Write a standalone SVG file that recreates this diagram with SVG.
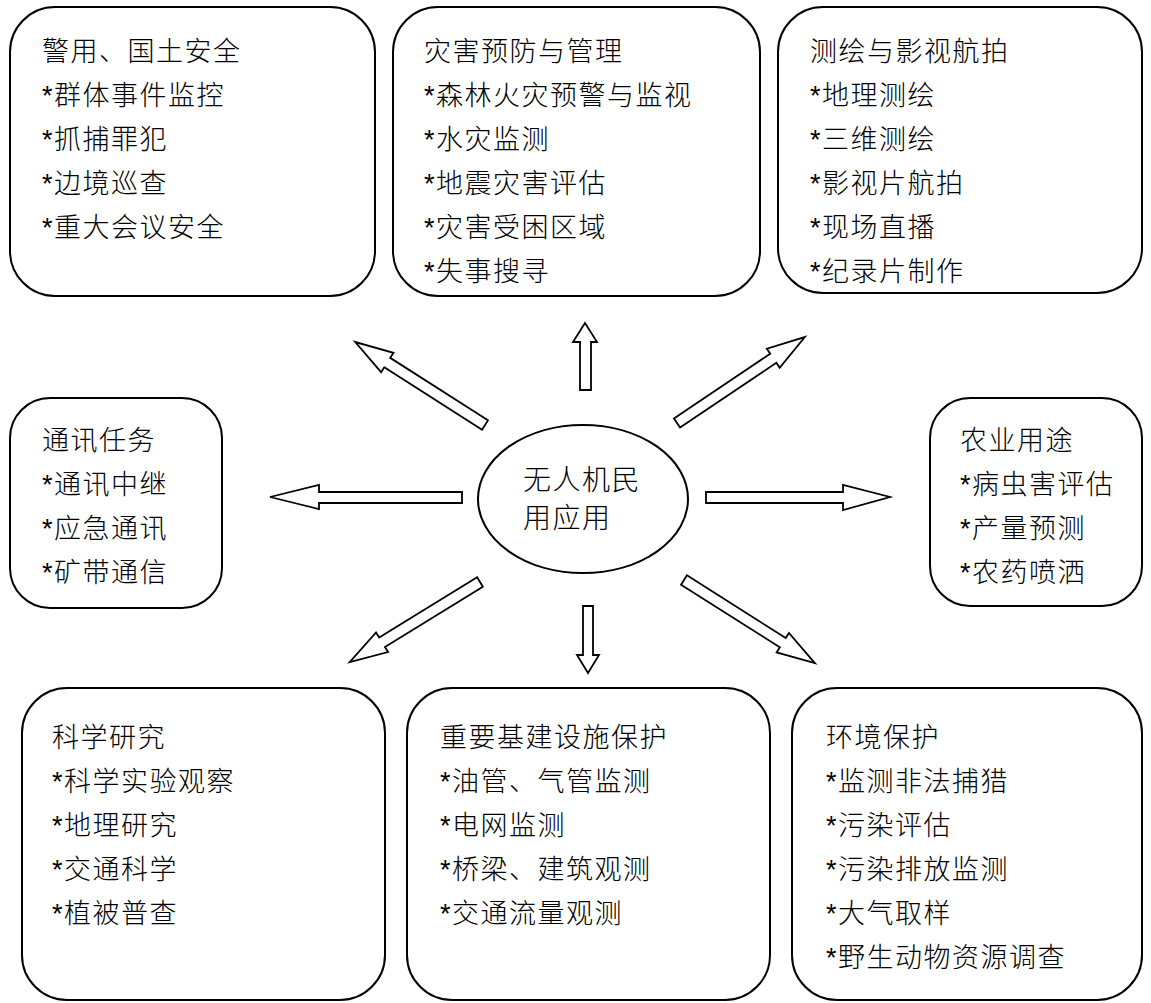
<svg xmlns="http://www.w3.org/2000/svg" width="1151" height="1003" viewBox="0 0 1151 1003">
<style>
.box{fill:#fff;stroke:#000;stroke-width:2}
.t{font-family:"Liberation Sans","Noto Sans CJK SC",sans-serif;font-size:27px;font-weight:300;fill:#000;letter-spacing:1.5px}
.c{font-family:"Liberation Sans","Noto Sans CJK SC",sans-serif;font-size:28px;font-weight:300;fill:#000;letter-spacing:1.5px}
.arr{fill:#fff;stroke:#000;stroke-width:1.8;stroke-linejoin:miter}
</style>
<rect width="1151" height="1003" fill="#fff"/>
<g id="n-police">
<rect class="box" x="10" y="7" width="365" height="289" rx="45" ry="45"/>
<text class="t" x="42" y="61">警用、国土安全</text>
<text class="t" x="42" y="105">*群体事件监控</text>
<text class="t" x="42" y="149">*抓捕罪犯</text>
<text class="t" x="42" y="193">*边境巡查</text>
<text class="t" x="42" y="237">*重大会议安全</text>
</g>
<g id="n-disaster">
<rect class="box" x="393" y="7" width="367" height="289" rx="45" ry="45"/>
<text class="t" x="424" y="61">灾害预防与管理</text>
<text class="t" x="424" y="105">*森林火灾预警与监视</text>
<text class="t" x="424" y="149">*水灾监测</text>
<text class="t" x="424" y="193">*地震灾害评估</text>
<text class="t" x="424" y="237">*灾害受困区域</text>
<text class="t" x="424" y="281">*失事搜寻</text>
</g>
<g id="n-survey">
<rect class="box" x="778" y="7" width="364" height="286" rx="45" ry="45"/>
<text class="t" x="810" y="61">测绘与影视航拍</text>
<text class="t" x="810" y="105">*地理测绘</text>
<text class="t" x="810" y="149">*三维测绘</text>
<text class="t" x="810" y="193">*影视片航拍</text>
<text class="t" x="810" y="237">*现场直播</text>
<text class="t" x="810" y="281">*纪录片制作</text>
</g>
<g id="n-comm">
<rect class="box" x="10" y="398" width="212" height="210" rx="40" ry="40"/>
<text class="t" x="42" y="450">通讯任务</text>
<text class="t" x="42" y="494">*通讯中继</text>
<text class="t" x="42" y="538">*应急通讯</text>
<text class="t" x="42" y="582">*矿带通信</text>
</g>
<g id="n-center">
<ellipse class="box" cx="583" cy="499" rx="105" ry="74"/>
<text class="c" x="523" y="490">无人机民</text>
<text class="c" x="523" y="528">用应用</text>
</g>
<g id="n-agri">
<rect class="box" x="930" y="398" width="212" height="208" rx="40" ry="40"/>
<text class="t" x="960" y="450">农业用途</text>
<text class="t" x="960" y="494">*病虫害评估</text>
<text class="t" x="960" y="538">*产量预测</text>
<text class="t" x="960" y="582">*农药喷洒</text>
</g>
<g id="n-science">
<rect class="box" x="22" y="688" width="363" height="312" rx="45" ry="45"/>
<text class="t" x="52" y="747">科学研究</text>
<text class="t" x="52" y="791">*科学实验观察</text>
<text class="t" x="52" y="835">*地理研究</text>
<text class="t" x="52" y="879">*交通科学</text>
<text class="t" x="52" y="923">*植被普查</text>
</g>
<g id="n-infra">
<rect class="box" x="407" y="688" width="363" height="312" rx="45" ry="45"/>
<text class="t" x="440" y="747">重要基建设施保护</text>
<text class="t" x="440" y="791">*油管、气管监测</text>
<text class="t" x="440" y="835">*电网监测</text>
<text class="t" x="440" y="879">*桥梁、建筑观测</text>
<text class="t" x="440" y="923">*交通流量观测</text>
</g>
<g id="n-env">
<rect class="box" x="792" y="688" width="350" height="312" rx="45" ry="45"/>
<text class="t" x="826" y="747">环境保护</text>
<text class="t" x="826" y="791">*监测非法捕猎</text>
<text class="t" x="826" y="835">*污染评估</text>
<text class="t" x="826" y="879">*污染排放监测</text>
<text class="t" x="826" y="923">*大气取样</text>
<text class="t" x="826" y="967">*野生动物资源调查</text>
</g>
<g id="connectors">
<polygon class="arr" points="0,-5.5 116,-5.5 116,-11.5 154,0 116,11.5 116,5.5 0,5.5" transform="translate(485,425) rotate(-147.4)"/>
<polygon class="arr" points="585,323 597,342 591,342 591,390 580,390 580,342 573,342"/>
<polygon class="arr" points="0,-5.5 116,-5.5 116,-11.5 154,0 116,11.5 116,5.5 0,5.5" transform="translate(677,423) rotate(-33.9)"/>
<polygon class="arr" points="462,492 319,492 319,485 270,497 319,509 319,503 462,503"/>
<polygon class="arr" points="706,492 843,492 843,485 890,497 843,510 843,503 706,503"/>
<polygon class="arr" points="0,-5.5 115,-5.5 115,-11.5 153,0 115,11.5 115,5.5 0,5.5" transform="translate(480,582) rotate(148.4)"/>
<polygon class="arr" points="583,606 593,606 593,655 599,655 588,673 577,655 583,655"/>
<polygon class="arr" points="0,-5.5 117,-5.5 117,-11.5 155,0 117,11.5 117,5.5 0,5.5" transform="translate(684,580) rotate(32.4)"/>
</g>
</svg>
